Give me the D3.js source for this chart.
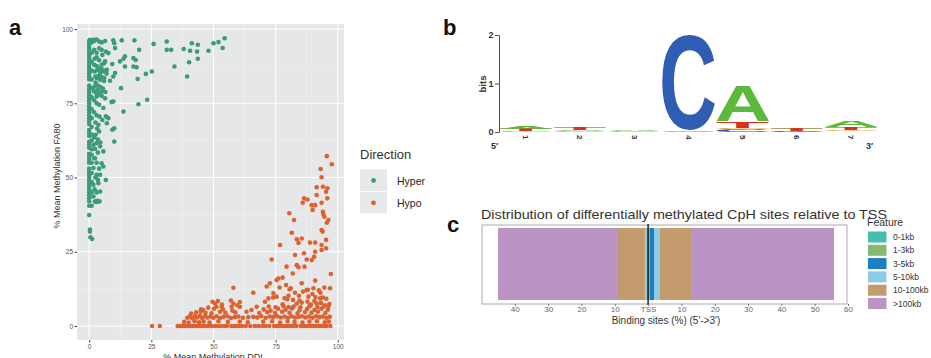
<!DOCTYPE html>
<html>
<head>
<meta charset="utf-8">
<script src="https://cdn.jsdelivr.net/npm/d3@7"></script>
<style>
  body { margin: 0; background: #fff; }
  svg { display: block; }
  text { font-family: "Liberation Sans", Arial, sans-serif; }
</style>
</head>
<body>
<svg id="fig" width="931" height="358"></svg>
<script>
// ---- panel a : scatter (DDI vs FA80) ----
const hyperPts = [
  [0,96],[0,95],[0,94],[0,93],[0,92],[0,91],[0,90],[0,89],[0,88],[0,87],[0,86],[0,85],[0,84],[0,83],
  [0,81],[0,80],[0,79],[0,78],[0,77],[0,76],[0,75],[0,74],[0,73],[0,72],[0,71],[0,70],[0,69],[0,68],
  [0,66],[0,65],[0,64],[0,62],[0,61],[0,60],[0,58],[0,57],[0,56],[0,55],[0,53],[0,52],[0,51],[0,50],
  [0,49],[0,48],[0,47],[0,46],[0,45],[0,44],[0,43],[0,42],[0,40.5],[0,37.4],[0.3,32.5],[0.3,31.8],
  [0.5,29.9],[1.2,29.3],
  [1,95.5],[1,92],[1,89],[1,86],[1,83],[1.3,80.1],[1,77],[1,73],[1,70],[1,67],[1,64.4],[1.7,61],
  [1,57.7],[1.7,53.2],[1,51.5],[1.7,47.6],[1.7,43.6],[1,40.5],[1,48.5],[1,45],[1,55],[1,59.5],[1,62.5],
  [2,96],[3,96.5],[4,95.8],[5,95.5],[6.4,96],[2,93],[3,92],[4,93.5],[5,93],[2.2,90],[3,90.5],[4,89.5],
  [5,88],[6,88.5],[2,88],[3,87.5],[4,86.8],[5,86.5],[6,86],[7,85],[2.5,84],[3.8,84.2],[5,83.8],[6,82.5],
  [2.6,82],[3.5,81],[4.5,80.5],[5.5,80],[2,79],[3,78.2],[4,78],[5,77.5],[6.5,78.8],[2,76],[3,75],
  [4,74.5],[2,72],[3,71],[4.2,70.5],[2.5,68.5],[3.2,66.5],[4,65.5],[2,63.5],[3.5,62.8],[4.5,61.8],
  [2.4,59.6],[3.5,58.4],[2,56.5],[3,55],[4,53],[2.5,50],[3.5,49.2],[2.2,46],[3,45],[3.2,42.2],[4.2,42],
  [2.8,41.8],
  [0.3,96.4],[1.7,96.4],[9.7,96.2],[13.1,96.2],[18.2,96.2],[25.9,95],[31.2,95.8],[41.3,95.2],[43.7,94.7],
  [50,95.2],[52,95.6],[54.5,96.9],[53.7,93.6],[48,92.7],[43.4,92.4],[40.6,92.7],[38,93.3],[33,93],
  [31.2,93],[43.7,90],[40.2,88.8],[34.3,87.4],[39.4,84],[25.2,85.7],[22.8,84.9],[19.5,83.2],[23.3,76.2],
  [19.8,74.7],[20.1,93],[17.8,90.2],[18.7,89.6],[14.4,90.8],[13.8,90],[12.4,89.1],[17.8,87.4],
  [19.1,87.1],[14.4,87.4],[12.8,80.1],[13.8,72.2],[10.1,95.2],[10.4,93.6],[9.3,88.2],[10.4,85.2],
  [9.7,84],[9.7,75.6],[9,75.4],[10.1,66.6],[9.3,66.1],[10.1,62.1],[7.7,91.9],[6.7,92.4],[5.3,91.3],
  [6.4,89.1],[7.1,86.3],[5.3,85.7],[4.4,85.2],[3.4,86.3],[2.3,85.7],[3,83.5],[4.4,82.9],[6.1,83.5],
  [8.4,82.6],[2.3,80.7],[3.4,79.5],[5,79],[6.4,76.7],[3,77.3],[5.7,73.4],[6.7,70.6],[5.3,69.4],[7.7,70],
  [7.1,68.3],[3.7,67.8],[2.6,64.4],[1,64.4],[3,61.6],[4.4,60.5],[5.7,58.8],[2.3,56.5],[5,54.8],
  [5.7,53.7],[3,50.9],[4.4,50.9],[6.7,49.2],[3.7,48.1],[4.4,45.3],[2.3,41.9],[3.7,41.9]
];
const hypoPts = [
  [25.3,0],[28.4,0],[35.6,0],[36.6,0],[37.6,0],[38.6,0],[39.6,0],[40.6,0],[41.6,0],[42.6,0],[43.6,0],
  [44.6,0],[45.6,0],[46.6,0],[47.8,0],[49.2,0],[50.6,0],[51.8,0],[53,0],[54.4,0],[55.4,0],[57.2,0],
  [58.2,0],[59.2,0],[60.2,0],[61.4,0],[63,0],[64.8,0],[66.6,0],[68,0],[69.6,0],[70.8,0],[72.4,0],
  [74.4,0],[75.4,0],[76.4,0],[77.4,0],[78.4,0],[79.4,0],[80.4,0],[81.4,0],[82.4,0],[83.4,0],[85.2,0],
  [86.2,0],[87.2,0],[88.2,0],[89.2,0],[90.2,0],[91.2,0],[92.2,0],[93.2,0],[94.2,0],[95.4,0],[97,0],
  [38.2,1.4],[40,1.2],[42.4,1.6],[44.2,1.3],[46,1.5],[48.4,1.2],[52,1.6],[55.8,1.4],[60.6,1.5],
  [63.8,1.3],[70,1.5],[73.6,1.6],[76.8,1.2],[79.8,1.6],[82.6,1.4],[85.8,1.2],[88.6,1.5],[91.6,1.6],
  [94.8,1.3],[96.4,1.5],
  [39.5,2.8],[40.5,3.2],[41.5,2.6],[42.5,3.3],[43.4,2.9],[44.5,3.4],[45.4,2.7],[46.5,3.3],[47.6,2.9],
  [48.8,3.2],[50,2.8],[51.2,3.3],[52.6,2.7],[54,3.1],[55.6,3.3],[57,2.7],[58.6,3],[60,3.2],[61.8,2.8],
  [64,3],[66,3.1],[67.6,2.9],[69.2,3.3],[71,2.8],[72.6,3.2],[74,3],[75.6,3.3],[77,2.9],[78.6,3.2],
  [80,2.8],[81.4,3.3],[82.8,2.9],[84.2,3.1],[85.6,3.3],[87,2.9],[88.4,3.2],[89.8,2.8],[91.2,3.3],
  [92.6,3],[94,3.2],[95.4,2.8],[96.8,3.1],
  [41,4.2],[43,4.6],[44.8,4.8],[46.8,4.4],[49.2,4.3],[52.6,4.8],[54.8,4.5],[58.8,4.6],[63.3,4.8],
  [68.4,4.4],[71.6,4.7],[74.8,4.4],[77.6,4.8],[80.6,4.5],[83.8,4.3],[86.8,4.7],[89.4,4.5],[92,4.8],
  [95,4.4],
  [45.9,5.4],[50.2,5.8],[53.8,5.6],[57.6,5.2],[65.3,5.4],[70.2,5.6],[73,5.2],[76,5.8],[79,5.5],
  [81.6,5.9],[84.6,5.3],[87.6,5.7],[90.6,5.4],[93.4,5.8],[96,5.5],[45,5.6],[47.9,6.2],
  [51.2,6.5],[53.3,6.5],[57.3,6.5],[60.6,6.5],[67.4,6.5],[72.2,6.6],[75,6.3],[78.2,6.7],[80.2,6.4],
  [82.2,6.6],[85,6.3],[88.6,6.7],[91.8,6.4],[94.4,6.6],[96.2,6.5],[94.8,7],[53.4,7.2],
  [50.6,7.6],[58,7.6],[59.6,7],[77.8,7.3],[83.5,7.6],[85.5,7.9],[89.2,7.2],[91.5,7.6],[96.6,7.4],
  [93.2,7.8],[49.6,8.2],[51.8,8.4],[57,8.6],[70.7,8.2],[72.1,9.3],[75.4,9.9],[79.7,9],[87.8,8.2],
  [88.2,9.9],[92.9,9.3],[94,9.6],[74,9.6],[60.6,8.1],[78.6,9.4],[82,8.8],[84.6,8.6],[90.6,8.4],
  [95.4,9.2],[80.2,10.2],[84.4,10.2],[91,9.8],[89.8,10.8],
  [58,12.9],[66,11.2],[71.4,13.3],[72.7,14.4],[74.1,11],[75.4,15.5],[76.1,16],[79.2,13.8],[79.4,20],
  [81.1,12.7],[81.9,17.7],[82.8,11.2],[82.8,23.9],[83.5,20.5],[73.4,22.4],[76.8,27.3],[80.5,38],
  [81.5,31.4],[82.4,35.7],[83.5,29.2],[84.2,28],[85.5,14.4],[85.5,29.5],[86.4,24.5],[87.5,12.1],
  [87.5,22.4],[89.5,22.2],[90.5,23.3],[88.8,28.1],[90.9,28.1],[90.9,25],[90.2,12.7],[90.9,15.3],
  [89.5,40.7],[89.9,39.1],[90.9,40.7],[85.9,41.5],[86.4,43],[87.8,42.6],[91.5,44.1],[91.5,46.7],
  [93.1,52.9],[93.5,50.1],[94,46.9],[95.8,46.4],[95.3,45.2],[95.6,57.2],[97.6,54.5],[93.5,41.5],
  [95.8,43],[94,38.5],[94.2,37.7],[94.6,36.8],[96.2,35.7],[95.6,34.8],[93.5,32.3],[93.9,31.8],
  [95.3,29],[93.5,27.3],[95.3,26.2],[93.5,25.6],[96.9,12.7],[97.2,17.5],[92.4,12],[86,11.6],
  [88,12.2],[86.6,20],[84.2,19.8],[77.8,16.3],[80.6,12.4],[76.6,13],[94.6,13],[93,11.2]
];
const directions = ["Hyper", "Hypo"];
const directionColors = ["#3a9c77", "#dd6230"];
const aTicks = [0, 25, 50, 75, 100];
const aMinor = [12.5, 37.5, 62.5, 87.5];

// ---- panel b : sequence logo ----
const logoPositions = [1, 2, 3, 4, 5, 6, 7];
// stacks listed bottom -> top, [base, bits]
const logoStacks = [
  [["C", 0.01], ["G", 0.01], ["T", 0.04], ["A", 0.06]],
  [["C", 0.01], ["G", 0.01], ["A", 0.03], ["T", 0.04]],
  [["G", 0.01], ["C", 0.01], ["T", 0.01], ["A", 0.01]],
  [["A", 0.01], ["G", 0.01], ["T", 0.01], ["C", 1.95]],
  [["C", 0.06], ["G", 0.02], ["T", 0.14], ["A", 0.72]],
  [["G", 0.01], ["C", 0.02], ["T", 0.04], ["A", 0.02]],
  [["C", 0.01], ["G", 0.03], ["T", 0.06], ["A", 0.12]]
];
const baseColors = { A: "#5cb93c", C: "#2f5db3", G: "#f3a527", T: "#d8321f" };
const bitTicks = [0, 1, 2];

// ---- panel c : distance to TSS ----
const features = ["0-1kb", "1-3kb", "3-5kb", "5-10kb", "10-100kb", ">100kb"];
const featureColors = ["#45bfad", "#86b870", "#1c7fc2", "#8ccbe6", "#c49b6d", "#bb93c5"];
const upstreamPct = [0.05, 0.1, 0.3, 0.5, 8.4, 35.7];
const downstreamPct = [0.15, 0.35, 1.4, 1.5, 9.8, 42.6];
const tssTicks = [-40, -30, -20, -10, 0, 10, 20, 30, 40, 50, 60];

const svg = d3.select("#fig");

// panel letters
svg.selectAll(".plabel")
  .data([["a", 9, 35], ["b", 443, 35], ["c", 447, 232]])
  .enter().append("text")
  .attr("x", d => d[1]).attr("y", d => d[2])
  .attr("font-size", 22).attr("font-weight", "bold").attr("fill", "#111")
  .text(d => d[0]);

/* ===== a ===== */
const ax = d3.scaleLinear().domain([-4.9, 102.5]).range([77, 344]);
const ay = d3.scaleLinear().domain([-4.7, 101.7]).range([340, 24]);
const ga = svg.append("g");

ga.append("rect").attr("x", 77).attr("y", 24).attr("width", 267).attr("height", 316).attr("fill", "#e6e7e8");

ga.selectAll(".mx").data(aMinor).enter().append("line")
  .attr("x1", d => ax(d)).attr("x2", d => ax(d)).attr("y1", 24).attr("y2", 340)
  .attr("stroke", "#f3f4f4").attr("stroke-width", 0.6);
ga.selectAll(".my").data(aMinor).enter().append("line")
  .attr("y1", d => ay(d)).attr("y2", d => ay(d)).attr("x1", 77).attr("x2", 344)
  .attr("stroke", "#f3f4f4").attr("stroke-width", 0.6);
ga.selectAll(".Mx").data(aTicks).enter().append("line")
  .attr("x1", d => ax(d)).attr("x2", d => ax(d)).attr("y1", 24).attr("y2", 340)
  .attr("stroke", "#fff").attr("stroke-width", 1.1);
ga.selectAll(".My").data(aTicks).enter().append("line")
  .attr("y1", d => ay(d)).attr("y2", d => ay(d)).attr("x1", 77).attr("x2", 344)
  .attr("stroke", "#fff").attr("stroke-width", 1.1);

const dots = ga.append("g");
dots.selectAll(".hyper").data(hyperPts).enter().append("circle")
  .attr("cx", d => ax(d[0])).attr("cy", d => ay(d[1])).attr("r", 2.3)
  .attr("fill", directionColors[0]);
dots.selectAll(".hypo").data(hypoPts).enter().append("circle")
  .attr("cx", d => ax(d[0])).attr("cy", d => ay(d[1])).attr("r", 2.3)
  .attr("fill", directionColors[1]);

function styleAxis(g, size, color) {
  g.select(".domain").remove();
  g.selectAll(".tick line").attr("stroke", "#444");
  g.selectAll(".tick text").attr("fill", color).attr("font-size", size)
    .attr("font-family", "Liberation Sans, Arial, sans-serif");
}
ga.append("g").attr("transform", "translate(77,0)")
  .call(d3.axisLeft(ay).tickValues(aTicks).tickSize(2.5).tickPadding(1.5))
  .call(g => styleAxis(g, 6.5, "#555"));
ga.append("g").attr("transform", "translate(0,340)")
  .call(d3.axisBottom(ax).tickValues(aTicks).tickSize(2.5).tickPadding(1.5))
  .call(g => styleAxis(g, 6.5, "#555"));

ga.append("text").attr("transform", "translate(60,176) rotate(-90)")
  .attr("text-anchor", "middle").attr("font-size", 9).attr("fill", "#333")
  .text("% Mean Methylation FA80");
ga.append("text").attr("x", 213).attr("y", 360)
  .attr("text-anchor", "middle").attr("font-size", 9).attr("fill", "#333")
  .text("% Mean Methylation DDI");

// legend a
ga.append("text").attr("x", 360).attr("y", 159).attr("font-size", 13).attr("fill", "#333").text("Direction");
const la = ga.selectAll(".la").data(directions).enter().append("g")
  .attr("transform", (d, i) => `translate(360,${169.5 + i * 22.3})`);
la.append("rect").attr("width", 27).attr("height", 21.5).attr("fill", "#e8e9ea");
la.append("circle").attr("cx", 13.5).attr("cy", 11).attr("r", 2.4).attr("fill", (d, i) => directionColors[i]);
la.append("text").attr("x", 37).attr("y", 15.5).attr("font-size", 10.5).attr("fill", "#222").text(d => d);

/* ===== b ===== */
const bx = d3.scaleBand().domain(logoPositions).range([499, 878.4]).padding(0);
const by = d3.scaleLinear().domain([0, 2]).range([132, 35]);
const gb = svg.append("g");

gb.append("g").attr("transform", "translate(499,0)")
  .call(d3.axisLeft(by).tickValues(bitTicks).tickSize(4).tickPadding(1.5).tickFormat(d3.format("d")))
  .call(g => {
    g.select(".domain").attr("stroke", "#555");
    g.selectAll(".tick line").attr("stroke", "#555");
    g.selectAll(".tick text").attr("fill", "#333").attr("font-size", 9).attr("font-weight", "bold")
      .attr("font-family", "Liberation Sans, Arial, sans-serif");
  });
gb.append("text").attr("transform", "translate(486,84) rotate(-90)").attr("text-anchor", "middle")
  .attr("font-size", 9.5).attr("font-weight", "bold").attr("fill", "#333").text("bits");
gb.append("text").attr("x", 491).attr("y", 149).attr("font-size", 9).attr("font-weight", "bold")
  .attr("fill", "#333").text("5\u2032");
gb.append("text").attr("x", 866).attr("y", 149).attr("font-size", 9).attr("font-weight", "bold")
  .attr("fill", "#333").text("3\u2032");
gb.selectAll(".pos").data(logoPositions).enter().append("text")
  .attr("transform", d => `translate(${bx(d) + bx.bandwidth() / 2},135) rotate(90)`)
  .attr("dy", "0.35em").attr("font-size", 8).attr("font-weight", "bold").attr("fill", "#333")
  .text(d => d);

// glyph ink boxes measured with a canvas
const ctx = document.createElement("canvas").getContext("2d");
ctx.font = "bold 100px 'Liberation Sans'";
const ink = {};
"ACGT".split("").forEach(b => {
  const m = ctx.measureText(b);
  ink[b] = { l: m.actualBoundingBoxLeft, r: m.actualBoundingBoxRight, a: m.actualBoundingBoxAscent, d: m.actualBoundingBoxDescent };
});

logoStacks.forEach((stack, i) => {
  const pos = logoPositions[i];
  const x0 = bx(pos) + 0.6, w = bx.bandwidth() - 1.2;
  let cum = 0;
  stack.forEach(([b, bits]) => {
    const yb = by(cum), yt = by(cum + bits);
    cum += bits;
    const h = yb - yt;
    if (h <= 0) return;
    const k = ink[b];
    const sx = w / (k.l + k.r), sy = h / (k.a + k.d);
    gb.append("text")
      .attr("transform", `translate(${x0},${yb}) scale(${sx},${sy}) translate(${k.l},${-k.d})`)
      .attr("font-size", 100).attr("font-weight", "bold").attr("fill", baseColors[b])
      .style("font-family", "'Liberation Sans'")
      .text(b);
  });
});

/* ===== c ===== */
const cx = d3.scaleLinear().domain([-50, 60]).range([481.5, 848]);
const gc = svg.append("g");
gc.append("text").attr("x", 481).attr("y", 218.5).attr("font-size", 13.4).attr("fill", "#333")
  .attr("textLength", 406).attr("lengthAdjust", "spacingAndGlyphs")
  .text("Distribution of differentially methylated CpH sites relative to TSS");
gc.append("rect").attr("x", 482).attr("y", 225).attr("width", 365).attr("height", 79)
  .attr("fill", "#fff").attr("stroke", "#aaa").attr("stroke-width", 1);

const upCum = d3.cumsum(upstreamPct), downCum = d3.cumsum(downstreamPct);
const segs = [];
features.forEach((f, i) => {
  segs.push({ f: i, x0: -upCum[i], x1: -(upCum[i] - upstreamPct[i]) });
  segs.push({ f: i, x0: downCum[i] - downstreamPct[i], x1: downCum[i] });
});
gc.selectAll(".seg").data(segs).enter().append("rect")
  .attr("x", d => cx(d.x0)).attr("width", d => cx(d.x1) - cx(d.x0))
  .attr("y", 228).attr("height", 72).attr("fill", d => featureColors[d.f]);
gc.append("line").attr("x1", cx(0)).attr("x2", cx(0)).attr("y1", 224).attr("y2", 305)
  .attr("stroke", "#111").attr("stroke-width", 1.4);

gc.append("g").attr("transform", "translate(0,304)")
  .call(d3.axisBottom(cx).tickValues(tssTicks).tickSize(2).tickPadding(0.5)
    .tickFormat(d => d === 0 ? "TSS" : Math.abs(d)))
  .call(g => {
    g.select(".domain").remove();
    g.selectAll(".tick line").attr("stroke", "#777");
    g.selectAll(".tick text").attr("fill", "#666").attr("font-size", 8)
      .attr("font-family", "Liberation Sans, Arial, sans-serif");
  });
gc.append("text").attr("x", 666).attr("y", 323.5).attr("text-anchor", "middle")
  .attr("font-size", 10).attr("fill", "#333").text("Binding sites (%) (5'->3')");

gc.append("text").attr("x", 867).attr("y", 226).attr("font-size", 10.5).attr("fill", "#333").text("Feature");
const lc = gc.selectAll(".lc").data(features).enter().append("g")
  .attr("transform", (d, i) => `translate(868,${231.5 + i * 13.3})`);
lc.append("rect").attr("width", 18.5).attr("height", 11).attr("fill", (d, i) => featureColors[i]);
lc.append("text").attr("x", 25).attr("y", 8.5).attr("font-size", 8.5).attr("fill", "#333").text(d => d);
</script>
</body>
</html>
